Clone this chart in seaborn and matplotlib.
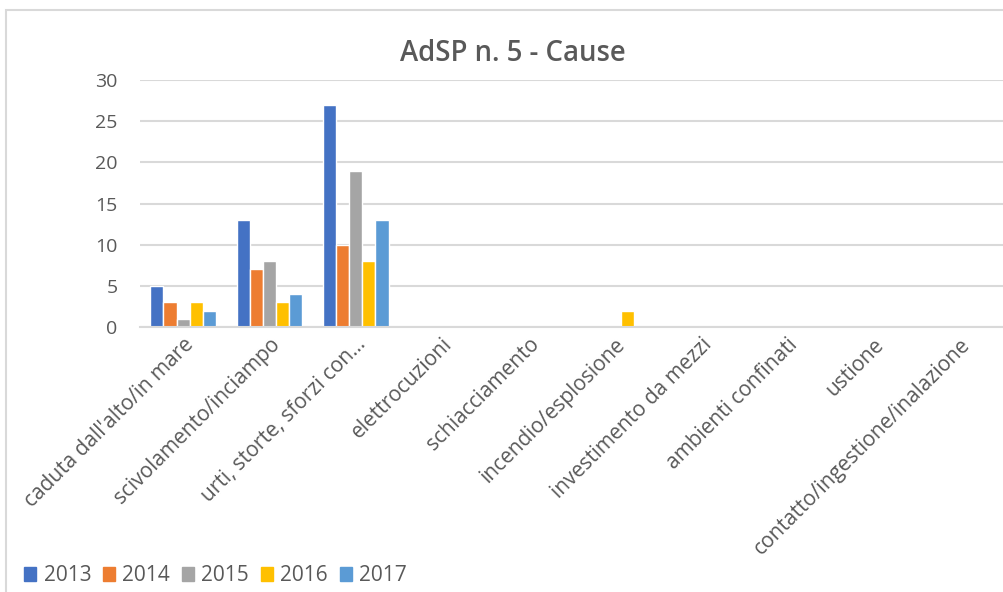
import matplotlib
matplotlib.use("Agg")
import matplotlib.pyplot as plt
import matplotlib.patches as mpatches
import seaborn as sns
import pandas as pd

categories = [
    "caduta dall'alto/in mare",
    "scivolamento/inciampo",
    "urti, storte, sforzi con…",
    "elettrocuzioni",
    "schiacciamento",
    "incendio/esplosione",
    "investimento da mezzi",
    "ambienti confinati",
    "ustione",
    "contatto/ingestione/inalazione",
]
years = ["2013", "2014", "2015", "2016", "2017"]
v2013 = [5, 13, 27, 0, 0, 0, 0, 0, 0, 0]
v2014 = [3, 7, 10, 0, 0, 0, 0, 0, 0, 0]
v2015 = [1, 8, 19, 0, 0, 0, 0, 0, 0, 0]
v2016 = [3, 3, 8, 0, 0, 2, 0, 0, 0, 0]
v2017 = [2, 4, 13, 0, 0, 0, 0, 0, 0, 0]
colors = ["#4472C4", "#ED7D31", "#A5A5A5", "#FFC000", "#5B9BD5"]

rows = []
for year, vals in zip(years, [v2013, v2014, v2015, v2016, v2017]):
    for cat, v in zip(categories, vals):
        rows.append({"Causa": cat, "Anno": year, "Valore": v})
df = pd.DataFrame(rows)

sns.set_theme(style="white")
plt.rcParams["font.family"] = ["Open Sans", "DejaVu Sans"]
text_color = "#595959"
grid_color = "#D9D9D9"

fig = plt.figure(figsize=(10.04, 5.92), dpi=100)
ax = fig.add_axes([0.1394, 0.4476, 0.8596, 0.4172])

sns.barplot(data=df, x="Causa", y="Valore", hue="Anno", order=categories,
            hue_order=years, palette=colors, width=0.76, ax=ax,
            edgecolor="white", linewidth=1.0, saturation=1, legend=False)

ax.set_ylim(0, 30)
ax.set_yticks(range(0, 31, 5))
ax.set_xlim(-0.5, len(categories) - 0.5)
ax.yaxis.grid(True, color=grid_color, linewidth=1.5)
ax.set_axisbelow(True)
for side in ["top", "right", "left"]:
    ax.spines[side].set_visible(False)
ax.spines["bottom"].set_color(grid_color)
ax.spines["bottom"].set_linewidth(1.5)
ax.tick_params(axis="both", length=0, colors=text_color)
ax.tick_params(axis="y", pad=16, labelsize=14)
ax.tick_params(axis="x", pad=5, labelsize=15)
ax.set_xlabel("")
ax.set_ylabel("")
plt.setp(ax.get_xticklabels(), rotation=45, ha="right", rotation_mode="anchor")

fig.text(0.511, 0.91, "AdSP n. 5 - Cause", ha="center", va="center",
         fontsize=19.8, color=text_color, fontweight="semibold")

handles = [mpatches.Patch(color=c, label=y) for c, y in zip(colors, years)]
fig.legend(handles=handles, loc="lower left", bbox_to_anchor=(0.005, -0.022),
           ncol=5, frameon=False, fontsize=15, handlelength=0.6,
           handleheight=0.6, handletextpad=0.35, columnspacing=0.55,
           labelcolor=text_color)

# chart area border
fig.add_artist(mpatches.Rectangle((6 / 1004, -0.1), 1.2, (582 / 592) + 0.1,
                                  transform=fig.transFigure, fill=False,
                                  edgecolor=grid_color, linewidth=1.5))

fig.savefig("out.png", dpi=100, facecolor="white")
